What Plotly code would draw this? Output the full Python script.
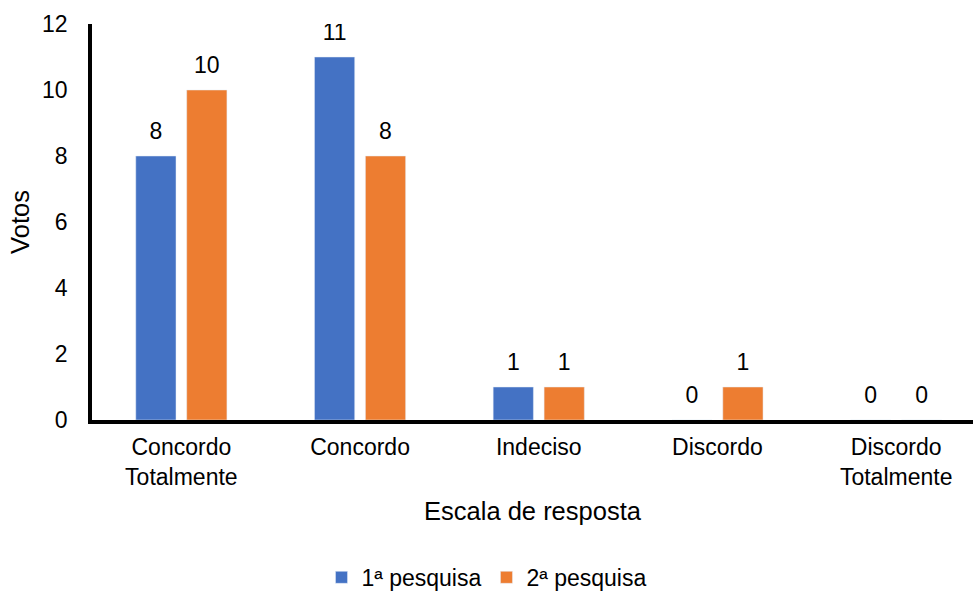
import plotly.graph_objects as go

categories = ["Concordo<br>Totalmente", "Concordo", "Indeciso", "Discordo", "Discordo<br>Totalmente"]
serie1_name = "1ª pesquisa"
serie2_name = "2ª pesquisa"
serie1_values = [8, 11, 1, 0, 0]
serie2_values = [10, 8, 1, 1, 0]
y_ticks = [0, 2, 4, 6, 8, 10, 12]

BLUE = "#4472C4"
ORANGE = "#ED7D31"
FONT = "Liberation Sans, Arial, sans-serif"
TICK_SIZE = 23
TITLE_SIZE = 25.5

fig = go.Figure()
for name, vals, color, grp in [(serie1_name, serie1_values, BLUE, "a"),
                               (serie2_name, serie2_values, ORANGE, "b")]:
    fig.add_trace(go.Bar(
        x=categories, y=vals, name=name, marker_color=color,
        offsetgroup=grp, alignmentgroup="g",
    ))
for vals, grp in [(serie1_values, "a"), (serie2_values, "b")]:
    fig.add_trace(go.Scatter(
        x=categories, y=vals, mode="markers+text", text=[str(v) for v in vals],
        textposition="top center",
        textfont=dict(family=FONT, size=TICK_SIZE, color="#000000"),
        marker=dict(size=16, opacity=0),
        offsetgroup=grp, alignmentgroup="s",
        showlegend=False, hoverinfo="skip",
    ))

fig.update_layout(
    width=973, height=594,
    margin=dict(l=92, r=0, t=24, b=174),
    plot_bgcolor="white", paper_bgcolor="white",
    barmode="group", bargap=0.43, bargroupgap=0.21,
    scattermode="group", scattergap=0.43,
    font=dict(family=FONT, size=TICK_SIZE, color="#000000"),
    showlegend=True,
    legend=dict(orientation="h", x=0.5, xanchor="center", xref="container",
                y=0.028, yanchor="middle", yref="container",
                font=dict(family=FONT, size=TICK_SIZE, color="#000000"),
                itemwidth=30, traceorder="normal"),
    xaxis=dict(
        type="category", range=[-0.5, 4.43],
        showline=True, linecolor="#000000", linewidth=3.5,
        showgrid=False, zeroline=False, ticks="",
        ticklabelstandoff=4,
        tickfont=dict(family=FONT, size=TICK_SIZE, color="#000000"),
        title=dict(text="Escala de resposta", font=dict(family=FONT, size=TITLE_SIZE, color="#000000"),
                   standoff=14),
        automargin=False,
    ),
    yaxis=dict(
        range=[0, 12], tickvals=y_ticks,
        showline=True, linecolor="#000000", linewidth=3.5,
        showgrid=False, zeroline=False, ticks="",
        ticklabelstandoff=16,
        tickfont=dict(family=FONT, size=TICK_SIZE, color="#000000"),
        title=dict(text="Votos", font=dict(family=FONT, size=TITLE_SIZE, color="#000000"),
                   standoff=6),
        automargin=False,
    ),
)

fig.write_html("out.html")
